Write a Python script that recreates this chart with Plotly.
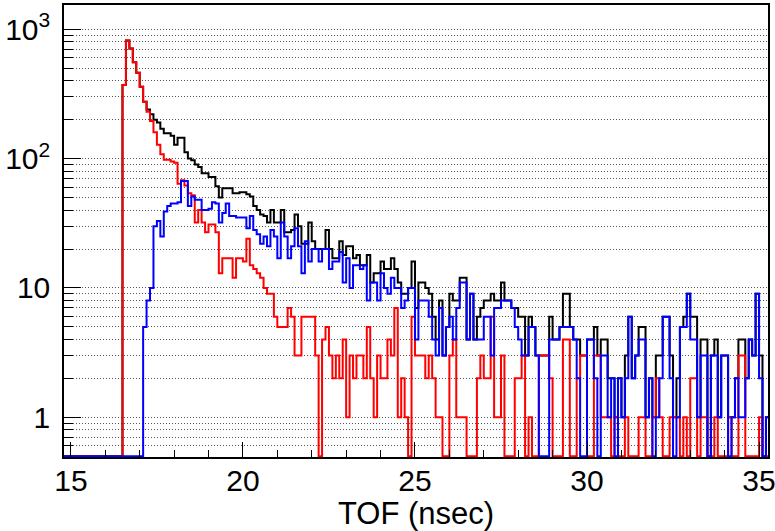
import plotly.graph_objects as go

# Histogram binning (TOF in ns)
BIN_START = 14.8
BIN_WIDTH = 0.1

# Total (black)
black_counts = [
    0, 0,
    0, 0, 0, 0, 0, 0, 0, 0, 0, 0,
    0, 0, 0, 0, 0, 371, 820, 710, 555, 460,
    360, 275, 240, 220, 200, 190, 170, 157, 157, 150,
    128, 145, 145, 112, 100, 97, 90, 86, 77, 77,
    72, 72, 61, 50, 59, 59, 59, 54, 54, 55,
    55, 53, 51, 43, 40, 37, 36, 32, 40, 32,
    32, 40, 27, 27, 28, 37, 30, 22, 22, 32,
    23, 20, 20, 20, 28, 20, 17, 17, 23, 18,
    21, 21, 17, 18, 15, 15, 18, 11, 13, 13,
    16, 14, 14, 17, 14, 11, 9, 9, 10, 16,
    7, 11, 11, 10, 9, 6, 4, 8, 3, 5,
    9, 8, 8, 12, 12, 4, 9, 4, 6, 7,
    8, 8, 9, 8, 8, 11, 8, 8, 7, 7,
    6, 6, 3, 6, 5, 3, 3, 3, 3, 6,
    4, 4, 5, 9, 9, 5, 4, 4, 3, 3,
    4, 4, 5, 3, 4, 4, 2, 2, 1, 2,
    1, 3, 6, 2, 3, 5, 5, 1, 2, 1,
    3, 3, 6, 6, 3, 1, 2, 5, 6, 9,
    6, 6, 1, 4, 4, 0, 3, 4, 1, 3,
    3, 1, 1, 2, 4, 4, 2, 4, 3, 9,
    3, 0, 1,
]

# Red component
red_counts = [
    0, 0,
    0, 0, 0, 0, 0, 0, 0, 0, 0, 0,
    0, 0, 0, 0, 0, 371, 820, 710, 555, 460,
    360, 275, 230, 195, 160, 128, 108, 98, 98, 95,
    93, 64, 68, 62, 54, 52, 32, 40, 32, 27,
    31, 31, 27, 13, 17, 17, 17, 12, 17, 17,
    16, 24, 15, 14, 13, 12, 10, 9, 9, 6,
    5, 5, 5, 7, 6, 3, 3, 6, 6, 6,
    6, 3, 0, 4, 5, 3, 2, 3, 2, 4,
    1, 3, 2, 3, 3, 2, 5, 2, 1, 3,
    2, 2, 4, 3, 7, 1, 2, 1, 0, 6,
    3, 3, 3, 2, 3, 2, 1, 1, 0, 0,
    3, 4, 1, 1, 1, 0, 0, 0, 2, 3,
    2, 2, 6, 1, 1, 3, 0, 0, 0, 2,
    2, 3, 0, 1, 0, 0, 3, 3, 3, 2,
    0, 0, 0, 4, 4, 0, 0, 2, 3, 3,
    0, 0, 3, 3, 1, 1, 1, 0, 1, 0,
    0, 1, 0, 0, 0, 1, 1, 0, 0, 1,
    2, 1, 0, 0, 1, 1, 1, 0, 1, 0,
    2, 2, 0, 1, 1, 0, 0, 1, 0, 0,
    0, 1, 0, 0, 3, 3, 0, 0, 0, 0,
    1, 0, 0,
]

# Blue component
blue_counts = [
    0, 0,
    0, 0, 0, 0, 0, 0, 0, 0, 0, 0,
    0, 0, 0, 0, 0, 0, 0, 0, 0, 0,
    0, 5, 8, 10, 30, 33, 25, 39, 43, 45,
    45, 46, 67, 67, 43, 51, 48, 48, 40, 40,
    41, 46, 45, 32, 38, 45, 36, 36, 35, 35,
    35, 29, 36, 28, 26, 22, 25, 21, 28, 25,
    17, 32, 25, 17, 21, 29, 21, 13, 23, 16,
    20, 20, 16, 20, 20, 14, 16, 16, 19, 11,
    17, 10, 15, 15, 14, 15, 8, 11, 11, 8,
    13, 10, 9, 12, 10, 10, 7, 8, 10, 10,
    4, 8, 8, 8, 6, 4, 3, 7, 3, 5,
    6, 4, 7, 11, 11, 4, 9, 4, 4, 4,
    6, 6, 3, 7, 7, 8, 8, 8, 7, 5,
    4, 3, 3, 5, 5, 3, 0, 0, 0, 4,
    4, 4, 5, 5, 5, 5, 4, 2, 0, 0,
    4, 4, 2, 0, 3, 3, 1, 2, 0, 2,
    1, 2, 6, 2, 3, 4, 4, 1, 2, 0,
    1, 2, 6, 6, 2, 0, 1, 5, 5, 9,
    4, 4, 1, 3, 3, 0, 3, 3, 1, 3,
    3, 0, 1, 2, 1, 1, 2, 4, 3, 9,
    2, 0, 1,
]

x_major = [15, 20, 25, 30, 35]
x_minor = [16, 17, 18, 19, 21, 22, 23, 24, 26, 27, 28, 29, 31, 32, 33, 34]
y_major = [1, 10, 100, 1000]
y_major_text = ["1", "10", "10<sup>2</sup>", "10<sup>3</sup>"]
y_minor = [0.5, 0.6, 0.7, 0.8, 0.9,
           2, 3, 4, 5, 6, 7, 8, 9,
           20, 30, 40, 50, 60, 70, 80, 90,
           200, 300, 400, 500, 600, 700, 800, 900]

Y_FLOOR = 0.5  # empty bins drawn at the bottom of the frame (log axis)

n = len(black_counts)
assert len(red_counts) == n and len(blue_counts) == n
edges = [round(BIN_START + i * BIN_WIDTH, 4) for i in range(n + 1)]


def step_xy(counts):
    ys = [max(c, Y_FLOOR) for c in counts]
    return edges, ys + [ys[-1]]


fig = go.Figure()
for counts, color in [(black_counts, "black"), (red_counts, "#ff0000"), (blue_counts, "#0000ff")]:
    xs, ys = step_xy(counts)
    fig.add_trace(go.Scatter(x=xs, y=ys, mode="lines", line=dict(color=color, width=2, shape="hv"),
                             hoverinfo="skip", showlegend=False))

FONT = "Liberation Sans, Arial, Helvetica, sans-serif"
GRID = "#555555"

fig.update_layout(
    width=775, height=531,
    margin=dict(l=64, r=7, t=5, b=74),
    paper_bgcolor="white", plot_bgcolor="white",
    font=dict(family=FONT, color="black"),
    showlegend=False,
)
fig.update_xaxes(
    range=[14.8, 35.26], tickmode="array", tickvals=x_major, ticks="inside", ticklen=15,
    tickwidth=1, tickcolor="black", tickfont=dict(size=30, family=FONT),
    ticklabeloverflow="allow", ticklabelstandoff=-4,
    minor=dict(tickmode="array", tickvals=x_minor, ticks="inside", ticklen=7, tickwidth=1,
               tickcolor="black", showgrid=False),
    showline=True, linecolor="black", linewidth=1.5, mirror=True,
    showgrid=False, zeroline=False,
    title=dict(text="TOF (nsec)", font=dict(size=31, family=FONT), standoff=0),
    automargin=False,
)
fig.update_yaxes(
    type="log", range=[-0.307, 3.1875], tickmode="array", tickvals=y_major, ticktext=y_major_text,
    ticks="inside", ticklen=17, tickwidth=1, tickcolor="black", tickfont=dict(size=30, family=FONT),
    minor=dict(tickmode="array", tickvals=y_minor, ticks="inside", ticklen=9, tickwidth=1,
               tickcolor="black", showgrid=True, gridcolor=GRID, gridwidth=1, griddash="1px,2px"),
    showgrid=True, gridcolor=GRID, gridwidth=1, griddash="1px,2px",
    showline=True, linecolor="black", linewidth=1.5, mirror=True, zeroline=False,
    ticklabelstandoff=6,
    automargin=False,
)

fig.write_html("out.html")
